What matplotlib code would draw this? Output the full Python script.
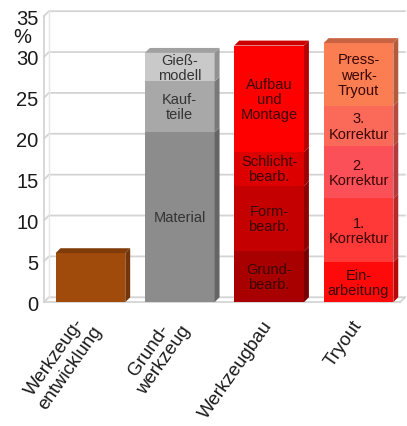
import matplotlib
matplotlib.use('Agg')
import matplotlib.pyplot as plt
import matplotlib.colors as mcolors
from matplotlib.patches import Polygon
import numpy as np

plt.rcParams['font.family'] = ['Liberation Sans', 'DejaVu Sans']

# categories on the x axis
categories = ['Werkzeug-\nentwicklung', 'Grund-\nwerkzeug', 'Werkzeugbau', 'Tryout']

# stacked segments per category (bottom to top), values in %
entwicklung_labels = ['']
entwicklung_values = [6.0]
entwicklung_colors = ['#a04a0c']

grund_labels = ['Material', 'Kauf-\nteile', 'Gieß-\nmodell']
grund_values = [20.8, 6.2, 3.5]
grund_colors = ['#8c8c8c', '#a8a8a8', '#c9c9c9']

bau_labels = ['Grund-\nbearb.', 'Form-\nbearb.', 'Schlicht-\nbearb.', 'Aufbau\nund\nMontage']
bau_values = [6.2, 8.0, 4.2, 13.0]
bau_colors = ['#a80000', '#c40000', '#dc0000', '#ff0000']

tryout_labels = ['Ein-\narbeitung', '1.\nKorrektur', '2.\nKorrektur', '3.\nKorrektur', 'Press-\nwerk-\nTryout']
tryout_values = [4.9, 7.8, 6.4, 4.9, 7.7]
tryout_colors = ['#ff0a0a', '#ff3838', '#fb5058', '#fb6a58', '#fb7d52']

text_colors = ['#333333', '#333333', '#3a0606', '#3a0606']

yticks = [0, 5, 10, 15, 20, 25, 30, 35]

stacks = [
    (entwicklung_labels, entwicklung_values, entwicklung_colors),
    (grund_labels, grund_values, grund_colors),
    (bau_labels, bau_values, bau_colors),
    (tryout_labels, tryout_values, tryout_colors),
]

# fake 3D depth of bars and walls (data units)
DX, DY = 0.055, 0.6
WIDTH = 0.78


def shade(color, f):
    r, g, b = mcolors.to_rgb(color)
    return (r * f, g * f, b * f)


fig = plt.figure(figsize=(4.07, 4.27), dpi=100)
ax = fig.add_axes([0.108, 0.29, 0.887, 0.67])
ax.set_xlim(-0.52, 3.52)
ax.set_ylim(0, 35)

# back wall gridlines, left wall and floor
xl, xr = ax.get_xlim()
for y in yticks:
    ax.plot([xl, xl + DX, xr], [y, y + DY, y + DY], color='#d4d4d4', lw=1.3, zorder=1, clip_on=False)
ax.plot([xl, xl], [0, 35], color='#d4d4d4', lw=1.3, zorder=1, clip_on=False)
ax.plot([xl + DX, xl + DX], [DY, 35 + DY], color='#e6e6e6', lw=1.0, zorder=1, clip_on=False)
ax.plot([xl, xr - DX], [0, 0], color='#d4d4d4', lw=1.3, zorder=1, clip_on=False)
ax.plot([xr - DX, xr], [0, DY], color='#d4d4d4', lw=1.3, zorder=1, clip_on=False)

x = np.arange(len(categories))
for xi, (labels, values, colors), tcol in zip(x, stacks, text_colors):
    bottom = 0.0
    right = xi + WIDTH / 2
    left = xi - WIDTH / 2
    for lab, val, col in zip(labels, values, colors):
        ax.bar(xi, val, bottom=bottom, width=WIDTH, color=col, edgecolor='none', zorder=3)
        # side face of the segment
        ax.add_patch(Polygon([(right, bottom), (right + DX, bottom + DY),
                              (right + DX, bottom + val + DY), (right, bottom + val)],
                             closed=True, facecolor=shade(col, 0.72), edgecolor='none', zorder=3))
        if lab:
            ax.text(xi, bottom + val / 2, lab, ha='center', va='center', fontsize=10.5,
                    color=tcol, linespacing=1.1, zorder=5)
        bottom += val
    # top face
    ax.add_patch(Polygon([(left, bottom), (left + DX, bottom + DY),
                          (right + DX, bottom + DY), (right, bottom)],
                         closed=True, facecolor=shade(colors[-1], 0.8), edgecolor='none', zorder=4))

ax.set_xticks(x)
ax.set_xticklabels(categories, rotation=55, ha='right', va='center', rotation_mode='anchor',
                   fontsize=13.5, multialignment='center', linespacing=1.1, color='#1a1a1a')
ax.tick_params(axis='x', length=0, pad=14)
ax.set_yticks(yticks)
ax.set_yticklabels([str(t) for t in yticks], fontsize=14.5, color='#1a1a1a')
ax.tick_params(axis='y', length=0, pad=4)
ax.text(-0.06, 32.5, '%', transform=ax.get_yaxis_transform(), ha='center', va='center',
        fontsize=14.5, color='#1a1a1a')

for s in ax.spines.values():
    s.set_visible(False)

fig.savefig('out.png', dpi=100)
